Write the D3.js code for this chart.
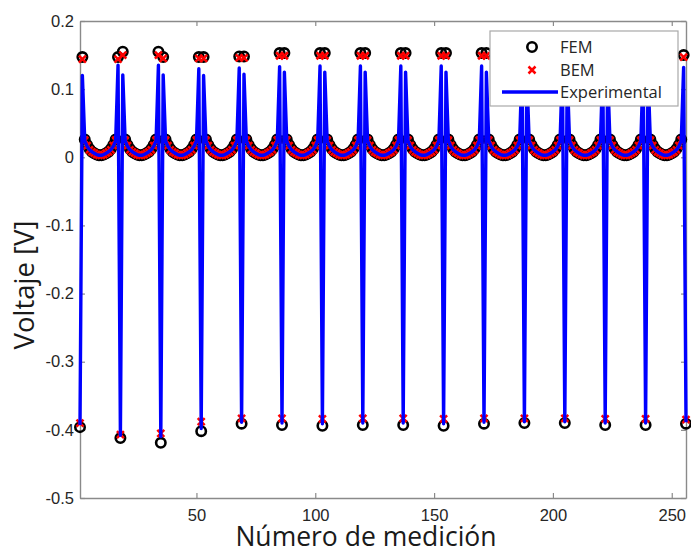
<!DOCTYPE html>
<html>
<head>
<meta charset="utf-8">
<script src="https://cdn.jsdelivr.net/npm/d3@7"></script>
<style>
  body { margin: 0; background: #fff; }
  #plot svg { display: block; }
</style>
</head>
<body>
<div id="plot"></div>
<script>
// measurement layout: a negative pulse every 17 samples, a peak each side of it,
// and a U shaped tail of 14 samples in between
const negIndex = [1, 18, 35, 52, 69, 86, 103, 120, 137, 154, 171, 188, 205, 222, 239, 256];

// negative pulse values (one per pulse)
const femNeg = [-0.396, -0.412, -0.419, -0.402, -0.391, -0.393, -0.394, -0.393, -0.393, -0.394, -0.391, -0.390, -0.390, -0.393, -0.393, -0.391];
const bemNeg = [-0.390, -0.407, -0.405, -0.388, -0.383, -0.383, -0.384, -0.383, -0.383, -0.384, -0.383, -0.383, -0.383, -0.384, -0.384, -0.385];
const expNeg = [-0.393, -0.408, -0.410, -0.398, -0.389, -0.390, -0.391, -0.390, -0.390, -0.391, -0.389, -0.388, -0.388, -0.390, -0.390, -0.389];

// peak just before each pulse (pulses 2..16)
const femPeakBefore = [0.147, 0.155, 0.147, 0.148, 0.153, 0.153, 0.153, 0.153, 0.153, 0.153, 0.153, 0.153, 0.153, 0.153, 0.150];
const bemPeakBefore = [0.144, 0.150, 0.145, 0.146, 0.149, 0.149, 0.149, 0.149, 0.149, 0.149, 0.149, 0.149, 0.149, 0.149, 0.147];
const expPeakBefore = [0.135, 0.135, 0.130, 0.131, 0.133, 0.134, 0.134, 0.134, 0.134, 0.134, 0.134, 0.134, 0.134, 0.134, 0.132];

// peak just after each pulse (pulses 1..15)
const femPeakAfter = [0.147, 0.155, 0.147, 0.147, 0.148, 0.153, 0.153, 0.153, 0.153, 0.153, 0.153, 0.153, 0.153, 0.153, 0.153];
const bemPeakAfter = [0.144, 0.150, 0.145, 0.145, 0.146, 0.149, 0.149, 0.149, 0.149, 0.149, 0.149, 0.149, 0.149, 0.149, 0.149];
const expPeakAfter = [0.120, 0.121, 0.121, 0.120, 0.122, 0.125, 0.125, 0.125, 0.125, 0.125, 0.125, 0.125, 0.125, 0.125, 0.125];

// U shaped tail between two peaks (14 samples)
const femTail = [0.026, 0.018, 0.012, 0.008, 0.006, 0.004, 0.003, 0.003, 0.004, 0.006, 0.008, 0.012, 0.018, 0.026];
const bemTail = [0.025, 0.017, 0.011, 0.008, 0.006, 0.004, 0.003, 0.003, 0.004, 0.006, 0.008, 0.011, 0.017, 0.025];
const expTail = [0.024, 0.016, 0.011, 0.008, 0.006, 0.004, 0.003, 0.003, 0.004, 0.006, 0.008, 0.011, 0.016, 0.024];

const xTicks = [50, 100, 150, 200, 250];
const yTicks = [0.2, 0.1, 0, -0.1, -0.2, -0.3, -0.4, -0.5];
const yTickLabels = ["0.2", "0.1", "0", "-0.1", "-0.2", "-0.3", "-0.4", "-0.5"];

// put one series together from its pieces
function buildSeries(neg, before, after, tail) {
  const pts = [];
  negIndex.forEach((n, k) => {
    if (k > 0) pts.push({ n: n - 1, v: before[k - 1] });
    pts.push({ n: n, v: neg[k] });
    if (k < negIndex.length - 1) {
      pts.push({ n: n + 1, v: after[k] });
      tail.forEach((v, j) => pts.push({ n: n + 2 + j, v: v }));
    }
  });
  return pts;
}

const fem = buildSeries(femNeg, femPeakBefore, femPeakAfter, femTail);
const bem = buildSeries(bemNeg, bemPeakBefore, bemPeakAfter, bemTail);
const exp = buildSeries(expNeg, expPeakBefore, expPeakAfter, expTail);

// Set dimensions
const margin = { top: 21, right: 5, bottom: 53, left: 80 };
const width = 691 - margin.left - margin.right;
const height = 551 - margin.top - margin.bottom;

const svgRoot = d3.select("#plot")
  .append("svg")
  .attr("width", 691)
  .attr("height", 551);

const svg = svgRoot.append("g")
  .attr("transform", `translate(${margin.left},${margin.top})`);

const x = d3.scaleLinear().domain([1, 256]).range([0, width]);
const y = d3.scaleLinear().domain([-0.5, 0.2]).range([height, 0]);

const axisColor = "#8a8a8a";
const tickFont = "'Liberation Sans', Arial, sans-serif";

function styleAxis(g) {
  g.select(".domain").attr("stroke", axisColor).attr("stroke-width", 1.4);
  g.selectAll(".tick line").attr("stroke", axisColor).attr("stroke-width", 1.2);
  g.selectAll(".tick text")
    .attr("fill", "#262626")
    .style("font-family", tickFont)
    .style("font-size", "16.5px");
}

// axes box, ticks pointing inward
svg.append("g")
  .attr("transform", `translate(0,${height})`)
  .call(d3.axisBottom(x).tickValues(xTicks).tickSizeInner(-5).tickSizeOuter(0).tickPadding(11))
  .call(styleAxis);

svg.append("g")
  .call(d3.axisTop(x).tickValues(xTicks).tickSizeInner(-5).tickSizeOuter(0).tickFormat(""))
  .call(styleAxis);

svg.append("g")
  .call(d3.axisLeft(y).tickValues(yTicks).tickSizeInner(-5).tickSizeOuter(0).tickPadding(6)
    .tickFormat((d, i) => yTickLabels[i]))
  .call(styleAxis);

svg.append("g")
  .attr("transform", `translate(${width},0)`)
  .call(d3.axisRight(y).tickValues(yTicks).tickSizeInner(-5).tickSizeOuter(0).tickFormat(""))
  .call(styleAxis);

// FEM circles
svg.append("g")
  .selectAll("circle")
  .data(fem)
  .enter()
  .append("circle")
  .attr("cx", d => x(d.n))
  .attr("cy", d => y(d.v))
  .attr("r", 4.7)
  .attr("fill", "none")
  .attr("stroke", "#000")
  .attr("stroke-width", 2.6);

// BEM crosses
const cross = "M-3.5,-3.5L3.5,3.5M-3.5,3.5L3.5,-3.5";
svg.append("g")
  .selectAll("path")
  .data(bem)
  .enter()
  .append("path")
  .attr("d", cross)
  .attr("transform", d => `translate(${x(d.n)},${y(d.v)})`)
  .attr("fill", "none")
  .attr("stroke", "#ff0000")
  .attr("stroke-width", 2.5);

// Experimental line
const line = d3.line().x(d => x(d.n)).y(d => y(d.v));
svg.append("path")
  .datum(exp)
  .attr("d", line)
  .attr("fill", "none")
  .attr("stroke", "#0000ff")
  .attr("stroke-width", 3.4)
  .attr("stroke-linejoin", "round");

// Legend
const legend = svgRoot.append("g").attr("transform", "translate(490,31)");
legend.append("rect")
  .attr("width", 188)
  .attr("height", 75)
  .attr("fill", "#fff")
  .attr("stroke", "#a8a8a8")
  .attr("stroke-width", 1.2);
legend.append("circle")
  .attr("cx", 42).attr("cy", 16).attr("r", 4.7)
  .attr("fill", "none").attr("stroke", "#000").attr("stroke-width", 2.6);
legend.append("path")
  .attr("d", cross)
  .attr("transform", "translate(42,39)")
  .attr("stroke", "#ff0000").attr("stroke-width", 2.5);
legend.append("line")
  .attr("x1", 12).attr("x2", 68).attr("y1", 61).attr("y2", 61)
  .attr("stroke", "#0000ff").attr("stroke-width", 3.4);
const legendNames = ["FEM", "BEM", "Experimental"];
legend.selectAll("text.lab")
  .data(legendNames)
  .enter()
  .append("text")
  .attr("class", "lab")
  .attr("x", 70)
  .attr("y", (d, i) => [16, 39, 61][i])
  .attr("dy", "0.35em")
  .attr("fill", "#262626")
  .style("font-family", "'Open Sans', sans-serif")
  .style("font-size", "16.5px")
  .text(d => d);

// Axis titles
svgRoot.append("text")
  .attr("x", 366)
  .attr("y", 546)
  .attr("text-anchor", "middle")
  .attr("fill", "#1a1a1a")
  .style("font-family", "'Open Sans', sans-serif")
  .style("font-size", "26.5px")
  .text("Número de medición");

svgRoot.append("text")
  .attr("transform", "translate(34,285) rotate(-90)")
  .attr("text-anchor", "middle")
  .attr("fill", "#1a1a1a")
  .style("font-family", "'Open Sans', sans-serif")
  .style("font-size", "27.5px")
  .text("Voltaje [V]");
</script>
</body>
</html>
